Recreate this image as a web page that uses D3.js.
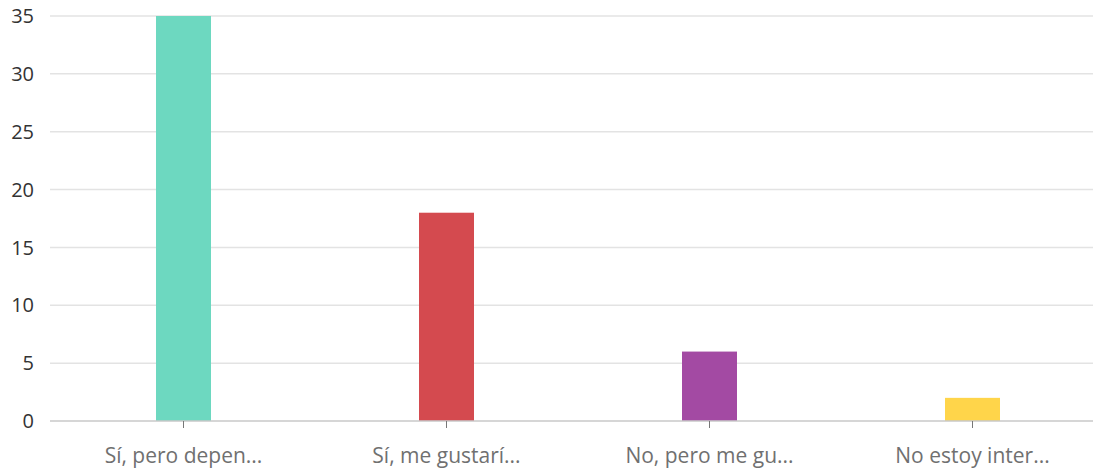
<!DOCTYPE html>
<html>
<head>
  <title>Bar Chart</title>
  <script src="https://d3js.org/d3.v7.min.js"></script>
  <style>
    body { margin: 0; background: #fff; }
    text { font-family: "Open Sans", sans-serif; }
  </style>
</head>
<body>
<div id="chart-container"></div>
<script>
// chart data
var categories = ["Sí, pero depen...", "Sí, me gustarí...", "No, pero me gu...", "No estoy inter..."];
var values = [35, 18, 6, 2];
var colors = ["#6dd8c0", "#d44a4f", "#a34aa3", "#ffd54a"];
var yTicks = [0, 5, 10, 15, 20, 25, 30, 35];

var width = 1095;
var height = 470;
var margin = { top: 16, right: 2, bottom: 49, left: 50 };

var svg = d3.select("#chart-container").append("svg")
  .attr("width", width)
  .attr("height", height);

// x and y scales
var x = d3.scaleBand()
  .domain(categories)
  .range([52, 1104]);
var y = d3.scaleLinear()
  .domain([0, 35])
  .range([height - margin.bottom, margin.top]);

// gridlines
svg.append("g")
  .selectAll("line")
  .data(yTicks.slice(1))
  .enter()
  .append("line")
  .attr("x1", margin.left)
  .attr("x2", width - margin.right)
  .attr("y1", function(d) { return y(d); })
  .attr("y2", function(d) { return y(d); })
  .attr("stroke", "#e3e3e3")
  .attr("stroke-width", 1.5);

// y labels
svg.append("g")
  .selectAll("text")
  .data(yTicks)
  .enter()
  .append("text")
  .attr("x", 34)
  .attr("y", function(d) { return y(d); })
  .attr("dy", "0.36em")
  .attr("text-anchor", "end")
  .style("font-size", "20px")
  .attr("fill", "#333")
  .text(function(d) { return d; });

// bars
var barW = 55;
svg.append("g")
  .selectAll("rect")
  .data(values)
  .enter()
  .append("rect")
  .attr("x", function(d, i) { return x(categories[i]) + x.bandwidth() / 2 - barW / 2; })
  .attr("y", function(d) { return y(d); })
  .attr("width", barW)
  .attr("height", function(d) { return y(0) - y(d); })
  .attr("fill", function(d, i) { return colors[i]; });

// baseline
svg.append("line")
  .attr("x1", margin.left)
  .attr("x2", width - margin.right)
  .attr("y1", y(0))
  .attr("y2", y(0))
  .attr("stroke", "#c8c8c8")
  .attr("stroke-width", 1.5);

// x ticks and labels
var xg = svg.append("g")
  .selectAll("g")
  .data(categories)
  .enter()
  .append("g")
  .attr("transform", function(d) { return "translate(" + (x(d) + x.bandwidth() / 2) + ",0)"; });
xg.append("line")
  .attr("y1", y(0))
  .attr("y2", y(0) + 7)
  .attr("stroke", "#777")
  .attr("stroke-width", 1);
xg.append("text")
  .attr("y", 463)
  .attr("text-anchor", "middle")
  .style("font-size", "21px")
  .attr("fill", "#707070")
  .text(function(d) { return d; });
</script>
</body>
</html>
